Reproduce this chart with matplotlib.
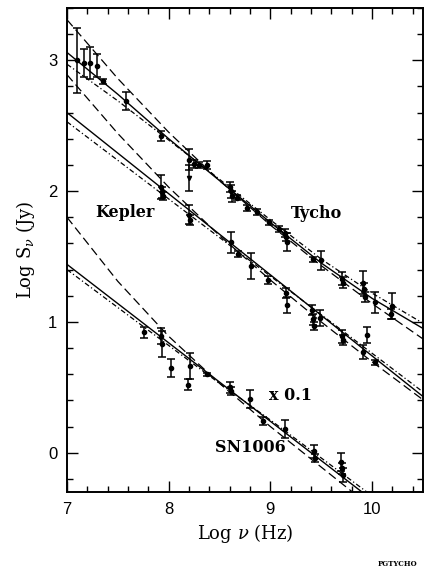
import matplotlib

matplotlib.use("Agg")
import matplotlib.pyplot as plt
from matplotlib.ticker import MultipleLocator

# measured points: log frequency, log flux, error
TYCHO_X = [7.10, 7.17, 7.23, 7.30, 7.35, 7.58, 7.92, 8.20, 8.25, 8.30, 8.38,
           8.60, 8.61, 8.62, 8.67, 8.77, 8.87, 8.99, 9.08, 9.14, 9.15, 9.16,
           9.42, 9.50, 9.70, 9.71, 9.91, 9.92, 9.93, 10.03, 10.20, 10.19]
TYCHO_Y = [3.00, 2.98, 2.98, 2.96, 2.84, 2.69, 2.42, 2.24, 2.21, 2.20, 2.20,
           2.03, 2.00, 1.96, 1.95, 1.87, 1.84, 1.76, 1.71, 1.68, 1.65, 1.61,
           1.48, 1.47, 1.33, 1.30, 1.30, 1.25, 1.19, 1.15, 1.12, 1.06]
TYCHO_ERR = [0.25, 0.11, 0.12, 0.09, 0.02, 0.07, 0.04, 0.08, 0.03, 0.02, 0.03,
             0.04, 0.05, 0.04, 0.02, 0.02, 0.02, 0.02, 0.02, 0.03, 0.03, 0.07,
             0.02, 0.07, 0.05, 0.04, 0.09, 0.05, 0.04, 0.08, 0.10, 0.04]
# odd low point drawn as a triangle
TYCHO_TRI_X = [8.20]
TYCHO_TRI_Y = [2.10]
TYCHO_TRI_ERR = [0.10]

KEPLER_X = [7.92, 7.93, 7.94, 8.20, 8.21, 8.61, 8.68, 8.81, 8.98, 9.15, 9.16,
            9.41, 9.42, 9.43, 9.49, 9.70, 9.71, 9.91, 9.95, 10.03]
KEPLER_Y = [2.03, 1.99, 1.96, 1.82, 1.78, 1.61, 1.52, 1.43, 1.32, 1.22, 1.13,
            1.09, 1.02, 0.97, 1.03, 0.89, 0.86, 0.77, 0.90, 0.69]
KEPLER_ERR = [0.09, 0.04, 0.03, 0.07, 0.04, 0.08, 0.02, 0.10, 0.03, 0.04, 0.06,
              0.04, 0.04, 0.03, 0.06, 0.05, 0.04, 0.05, 0.06, 0.02]

SN1006_X = [7.76, 7.92, 7.93, 8.02, 8.19, 8.21, 8.38, 8.60, 8.61, 8.80, 8.93,
            9.14, 9.43, 9.44, 9.69, 9.70, 9.71]
SN1006_Y = [0.92, 0.89, 0.83, 0.65, 0.52, 0.66, 0.60, 0.50, 0.47, 0.41, 0.24,
            0.18, 0.01, -0.04, -0.07, -0.12, -0.17]
SN1006_ERR = [0.04, 0.06, 0.10, 0.07, 0.04, 0.10, 0.01, 0.04, 0.03, 0.07, 0.03,
              0.07, 0.05, 0.03, 0.07, 0.04, 0.05]

MODEL_X = [7.0, 7.5, 8.0, 8.5, 9.0, 9.5, 10.0, 10.5]
TYCHO_SOLID = [3.06, 2.74, 2.40, 2.08, 1.76, 1.45, 1.18, 0.95]
TYCHO_DASHED = [3.31, 2.86, 2.45, 2.08, 1.74, 1.43, 1.14, 0.87]
TYCHO_DASHDOT = [2.97, 2.69, 2.39, 2.09, 1.78, 1.48, 1.22, 0.99]
KEPLER_SOLID = [2.60, 2.29, 1.98, 1.67, 1.36, 1.05, 0.74, 0.43]
KEPLER_DASHED = [2.89, 2.44, 2.03, 1.66, 1.32, 1.00, 0.695, 0.405]
KEPLER_DASHDOT = [2.53, 2.235, 1.94, 1.645, 1.35, 1.055, 0.76, 0.465]
SN1006_SOLID = [1.44, 1.14, 0.84, 0.54, 0.24, -0.06, -0.36, -0.66]
SN1006_DASHED = [1.80, 1.31, 0.89, 0.53, 0.20, -0.11, -0.42, -0.72]
SN1006_DASHDOT = [1.40, 1.11, 0.82, 0.53, 0.25, -0.04, -0.33, -0.62]

SERIF = ["DejaVu Serif"]
SANS = ["Liberation Sans", "DejaVu Sans"]


def draw_points(ax, xs, ys, errs, marker="o"):
    ax.errorbar(xs, ys, yerr=errs, fmt=marker, color="black", ms=3.0,
                elinewidth=1.1, capsize=3.0, capthick=1.1, zorder=3)


def draw_models(ax, solid, dashed, dashdot):
    ax.plot(MODEL_X, solid, color="black", lw=1.0, ls="-")
    ax.plot(MODEL_X, dashed, color="black", lw=0.9, dashes=(7, 3.5))
    ax.plot(MODEL_X, dashdot, color="black", lw=0.9, dashes=(4, 2, 1, 2))


def main():
    plt.rcParams["mathtext.fontset"] = "dejavuserif"
    fig = plt.figure(figsize=(4.25, 5.72), dpi=100)
    ax = fig.add_axes([0.1576, 0.1399, 0.8376, 0.8462])

    draw_models(ax, TYCHO_SOLID, TYCHO_DASHED, TYCHO_DASHDOT)
    draw_models(ax, KEPLER_SOLID, KEPLER_DASHED, KEPLER_DASHDOT)
    draw_models(ax, SN1006_SOLID, SN1006_DASHED, SN1006_DASHDOT)

    draw_points(ax, TYCHO_X, TYCHO_Y, TYCHO_ERR)
    draw_points(ax, TYCHO_TRI_X, TYCHO_TRI_Y, TYCHO_TRI_ERR, marker="v")
    draw_points(ax, KEPLER_X, KEPLER_Y, KEPLER_ERR)
    draw_points(ax, SN1006_X, SN1006_Y, SN1006_ERR)

    ax.set_xlim(7, 10.5)
    ax.set_ylim(-0.3, 3.4)
    ax.xaxis.set_major_locator(MultipleLocator(1))
    ax.xaxis.set_minor_locator(MultipleLocator(0.2))
    ax.yaxis.set_major_locator(MultipleLocator(1))
    ax.yaxis.set_minor_locator(MultipleLocator(0.2))
    ax.tick_params(which="both", direction="in", top=True, right=True, width=1.0)
    ax.tick_params(which="major", length=8, labelsize=12, pad=7)
    ax.tick_params(which="minor", length=4)
    for label in ax.get_xticklabels() + ax.get_yticklabels():
        label.set_family(SANS)
    for spine in ax.spines.values():
        spine.set_linewidth(1.4)

    ax.set_xlabel(r"Log $\nu$ (Hz)", family=SERIF, fontsize=13, labelpad=4)
    ax.set_ylabel(r"Log S$_\nu$ (Jy)", family=SERIF, fontsize=13, labelpad=8)

    text_style = dict(family=SERIF, fontsize=11.5, fontweight="bold",
                      ha="center", va="center")
    ax.text(7.57, 1.84, "Kepler", **text_style)
    ax.text(9.45, 1.83, "Tycho", **text_style)
    ax.text(9.20, 0.44, "x 0.1", **text_style)
    ax.text(8.80, 0.04, "SN1006", **text_style)

    fig.text(0.983, 0.007, "PGTYCHO", family=SERIF, fontsize=5,
             fontweight="bold", ha="right", va="bottom")

    fig.savefig("out.png", dpi=100)
    plt.close(fig)


if __name__ == "__main__":
    main()
